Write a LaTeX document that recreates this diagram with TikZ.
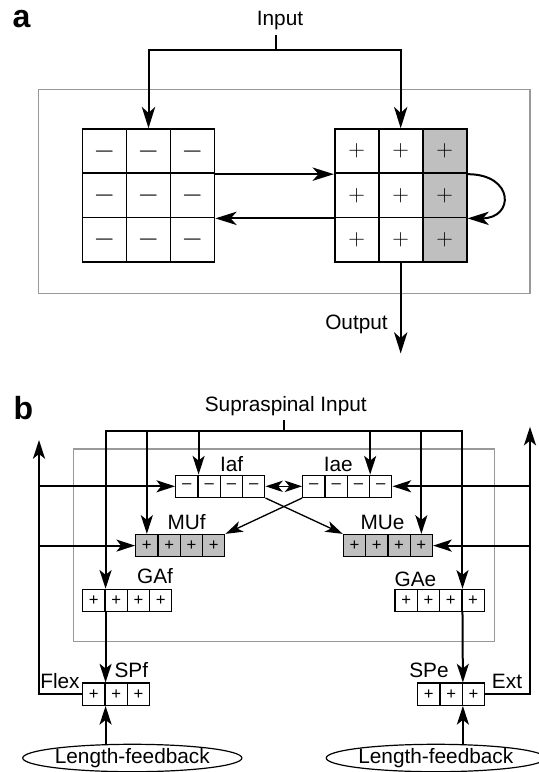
\documentclass[tikz,border=0pt]{standalone}
\usepackage{fontspec}
\setmainfont{Liberation Sans}
\usepackage{tikz}
\usetikzlibrary{arrows.meta,shapes.geometric}

\begin{document}
\begin{tikzpicture}[x=0.75pt,y=-0.75pt]
            \tikzset{BigCell/.style={%
                shape=rectangle,%
                draw=black,%
                line width=1.25pt,%
                minimum width=33pt,%
                minimum height=33.2pt,%
                inner sep=0pt,%
            }}
            \tikzset{Cell/.style={%
                shape=rectangle,%
                draw=black,%
                line width=0.9pt,%
                minimum size=16.7pt,%
                inner sep=0pt,%
                font=\fontsize{12.5}{12.5}\selectfont,%
            }}
            \tikzset{Label/.style={font=\fontsize{15.6}{18}\selectfont, inner sep=0pt, anchor=base}}
            \tikzset{Panel/.style={font=\fontsize{24}{24}\selectfont\bfseries, inner sep=0pt}}
            \tikzset{Frame/.style={draw=black!40, line width=0.9pt}}
            \tikzset{Line/.style={line width=1.5pt}}
            \tikzset{Arr/.style={Line, -{Stealth[length=14pt,width=9pt,inset=3.5pt]}}}
            \tikzset{ThinArr/.style={line width=1pt, -{Stealth[length=13pt,width=8.5pt,inset=3.5pt]}}}
            \tikzset{BigArr/.style={line width=1.5pt, -{Stealth[length=16pt,width=10pt,inset=4.5pt]}}}
            \tikzset{Feedback/.style={draw, ellipse, line width=0.9pt, minimum width=144.5pt,%
                minimum height=19.5pt, inner sep=0pt, font=\fontsize{15.6}{18}\selectfont}}

            \useasboundingbox (0,0) rectangle (539,772);

            % panel a
            \node[Panel] (pa) at (21.5,19) {a};
            \draw[Frame] (38.3,89.3) rectangle (530,293.6);
            \foreach \r/\y in {1/151.2,2/195.4,3/239.6}
              \foreach \c/\x/\fl in {1/104.5/white,2/148.5/white,3/192.5/gray!50}
              {
                \node[BigCell] (m\r\c) at (\x,\y) {\fontsize{21}{21}\selectfont$-$};
                \node[BigCell, fill=\fl] (p\r\c) at (\x+252.2,\y) {\fontsize{16}{16}\selectfont$+$};
              }
            \node[Label] (in) at (280,25.2) {Input};
            \coordinate (is) at (276,35.2);
            \coordinate (ij) at (276,50.3);
            \draw[Line] (is) -- (ij);
            \draw[BigArr] (ij) -| (m12.north);
            \draw[BigArr] (ij) -| (p12.north);
            \draw[BigArr] (m13.south east) -- (p11.south west);
            \draw[BigArr] (p21.south west) -- (m23.south east);
            \draw[BigArr] (p13.south east) .. controls +(47,0) and +(47,0) .. (p23.south east);
            \coordinate (out) at (400.7,353.5);
            \draw[BigArr] (p32.south) -- (out);
            \node[Label] (outl) at (356.5,329) {Output};

            % panel b
            \node[Panel] (pb) at (23.5,408.5) {b};
            \draw[Frame] (73.3,449) rectangle (494.3,641.7);
            \node[Label] (sup) at (285.8,411) {Supraspinal Input};
            \coordinate (st) at (284.3,420);
            \coordinate (sj) at (284.3,431);
            \coordinate (ftop) at (39,440);
            \coordinate (etop) at (530,426.7);

            \foreach \nm/\lx/\ly/\nc/\fl/\sg in {iaf/175.7/486.3/4/white/{--}, iae/302.7/486.3/4/white/{--},%
                muf/135.7/545.6/4/gray!50/+, mue/343.3/545.6/4/gray!50/+,%
                gaf/82.7/600.5/4/white/+, gae/395/600.5/4/white/+,%
                spf/82.7/694.2/3/white/+, spe/417.7/694.2/3/white/+}
              \foreach \k in {1,...,\nc}
                \node[Cell, fill=\fl] (\nm\k) at ({\lx+22.3*(\k-0.5)},\ly) {\sg};

            \node[Label] (liaf) at (231.7,471.5) {Iaf};
            \node[Label] (liae) at (338.3,471.5) {Iae};
            \node[Label] (lmuf) at (186.7,529) {MUf};
            \node[Label] (lmue) at (382.5,529) {MUe};
            \node[Label] (lgaf) at (155,583) {GAf};
            \node[Label] (lgae) at (415.5,586) {GAe};
            \node[Label] (lspf) at (131.3,677) {SPf};
            \node[Label] (lspe) at (429,677) {SPe};
            \node[Label] (lflex) at (60,688) {Flex};
            \node[Label] (lext) at (507,688) {Ext};
            \node[Feedback] (lff) at (132.3,758) {Length-feedback};
            \node[Feedback] (lfe) at (435.8,758) {Length-feedback};

            \draw[Line] (st) -- (sj);
            \draw[Arr] (sj) -| (gaf1.north east);
            \draw[Arr] (sj) -| (muf1.north);
            \draw[Arr] (sj) -| (iaf1.north east);
            \draw[Arr] (sj) -| (iae3.north east);
            \draw[Arr] (sj) -| (mue4.north);
            \draw[Arr] (sj) -| (gae3.north east);

            \draw[Arr] (spf1.west) -| (ftop);
            \draw[Arr] (ftop |- iaf1.west) -- (iaf1.west);
            \draw[Arr] (ftop |- muf1.west) -- (muf1.west);
            \draw[Arr] (spe3.east) -| (etop);
            \draw[Arr] (etop |- iae4.east) -- (iae4.east);
            \draw[Arr] (etop |- mue4.east) -- (mue4.east);

            \draw[ThinArr, {Stealth[length=13pt,width=8.5pt,inset=3.5pt]}-{Stealth[length=13pt,width=8.5pt,inset=3.5pt]}] (iaf4.east) -- (iae1.west);
            \draw[ThinArr] (iaf4.south east) -- (mue1.north west);
            \draw[ThinArr] (iae1.south west) -- (muf4.north east);

            \draw[Arr] (gaf1.south east) -- (spf1.north east);
            \draw[Arr] (gae3.south east) -- (spe2.north east);
            \draw[Arr] (spf1.south east |- lff.north) -- (spf1.south east);
            \draw[Arr] (spe2.south east |- lfe.north) -- (spe2.south east);
        \end{tikzpicture}
\end{document}
